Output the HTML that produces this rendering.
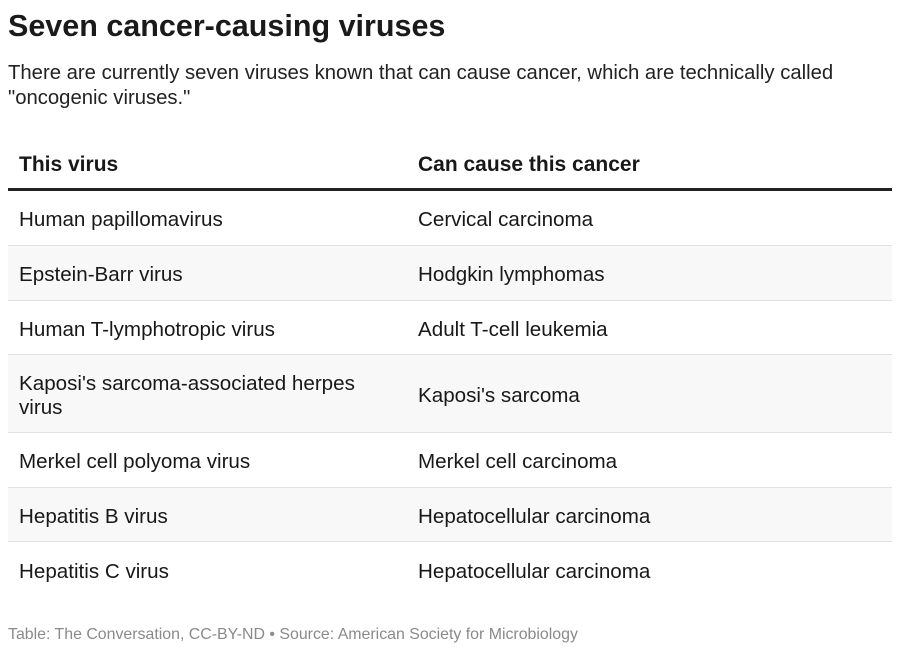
<!DOCTYPE html>
<html><head><meta charset="utf-8"><style>
body{margin:0;width:900px;height:652px;background:#fff;font-family:"Liberation Sans",sans-serif;color:#181818;position:relative;overflow:hidden}
.a{position:absolute}
h1{position:absolute;left:8px;top:9px;margin:0;font-size:30.5px;font-weight:bold;color:#1a1a1a}
.sub{left:8px;top:61px;font-size:20.3px;line-height:25px;width:845px;color:#222}
.hd{top:153px;font-size:21px;font-weight:bold}
.row{position:absolute;left:8px;width:884px;border-bottom:1px solid #e2e2e2;font-size:20.6px}
.row div{position:absolute;top:50%;transform:translateY(-50%);margin-top:2px;line-height:24px}
.c1{left:11px;width:345px}.c2{left:410px}
.g{background:#f8f8f8}
.ft{left:8px;top:626px;font-size:15.9px;color:#8a8a8a}
</style></head><body>
<h1>Seven cancer-causing viruses</h1>
<div class="a sub">There are currently seven viruses known that can cause cancer, which are technically called "oncogenic viruses."</div>
<div class="a hd" style="left:19px">This virus</div>
<div class="a hd" style="left:418px">Can cause this cancer</div>
<div class="a" style="left:8px;top:188px;width:884px;height:3px;background:#222"></div>
<div class="row" style="top:191px;height:54px"><div class="c1">Human papillomavirus</div><div class="c2">Cervical carcinoma</div></div>
<div class="row g" style="top:246px;height:54px"><div class="c1">Epstein-Barr virus</div><div class="c2">Hodgkin lymphomas</div></div>
<div class="row" style="top:301px;height:53px"><div class="c1">Human T-lymphotropic virus</div><div class="c2">Adult T-cell leukemia</div></div>
<div class="row g" style="top:355px;height:77px"><div class="c1">Kaposi's sarcoma-associated herpes virus</div><div class="c2">Kaposi's sarcoma</div></div>
<div class="row" style="top:433px;height:54px"><div class="c1">Merkel cell polyoma virus</div><div class="c2">Merkel cell carcinoma</div></div>
<div class="row g" style="top:488px;height:53px"><div class="c1">Hepatitis B virus</div><div class="c2">Hepatocellular carcinoma</div></div>
<div class="row" style="top:542px;height:55px;border-bottom:none"><div class="c1">Hepatitis C virus</div><div class="c2">Hepatocellular carcinoma</div></div>
<div class="a ft">Table: The Conversation, CC-BY-ND • Source: American Society for Microbiology</div>
</body></html>
